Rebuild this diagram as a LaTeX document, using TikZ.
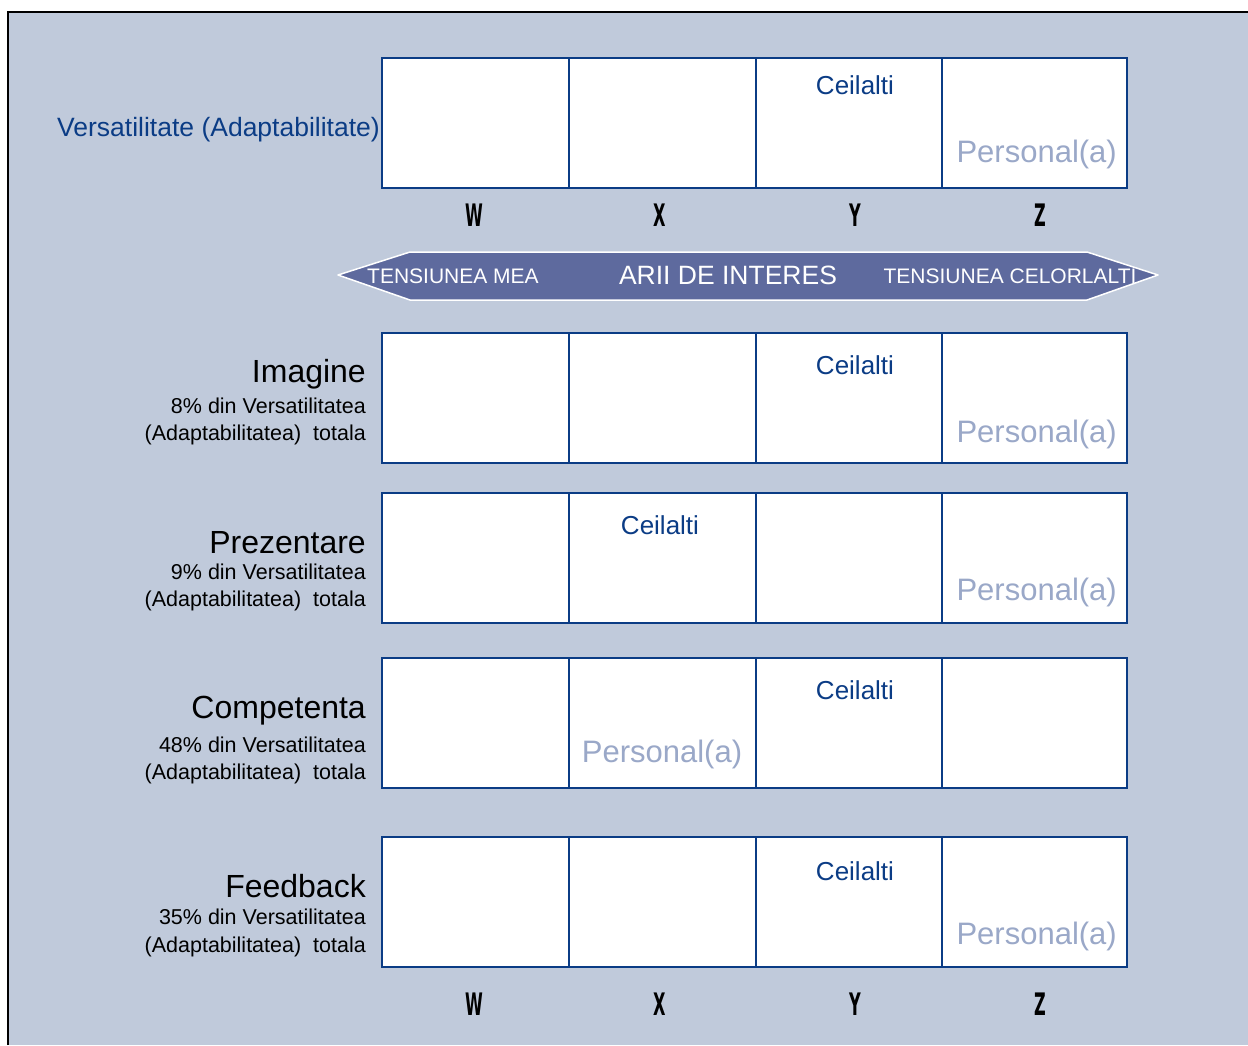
\documentclass[tikz,border=0pt]{standalone}
\usepackage{fontspec}
\setmainfont{Liberation Sans}
\newfontfamily\letterfont{DejaVu Sans}
\definecolor{bgc}{HTML}{C0CADB}
\definecolor{navy}{HTML}{0B3C85}
\definecolor{pers}{HTML}{9AA8C8}
\definecolor{bandc}{HTML}{5E6A9E}
\newcommand{\fs}[1]{\fontsize{#1}{#1}\selectfont}
\newcommand{\narrowtxt}[1]{\scalebox{0.52}[1]{#1}}
\begin{document}
\begin{tikzpicture}[x=1pt,y=-1pt,
  cell/.style={rectangle,draw=navy,line width=2.7pt,fill=white,minimum height=130pt,inner sep=0pt},
  txt/.style={inner sep=0pt,anchor=base},
  ceil/.style={txt,text=navy,font=\fs{26}},
  persn/.style={txt,text=pers,font=\fs{31}},
  letter/.style={txt,text=black,font=\letterfont\bfseries\fs{31}},
  rowtitle/.style={txt,anchor=base east,text=black,font=\fs{32}},
  rowsub/.style={txt,anchor=base east,text=black,font=\fs{21.5}},
  bandtxt/.style={txt,text=white}]
\useasboundingbox (0,0) rectangle (1248,1045);
\fill[bgc] (8,12) rectangle (1248,1045);
\draw[black,line width=2.5pt] (8,1045) -- (8,12) -- (1248,12);

% grid cells
\foreach \r/\yt in {1/58,2/333,3/493,4/658,5/837}{
  \foreach \c/\xl/\w in {1/382/187,2/569/187,3/756/186,4/942/185}{
    \node[cell,minimum width=\w pt] (r\r-\c) at (\xl+\w/2,\yt+65) {};
  }
}

% row 1
\node[txt,anchor=base east,text=navy,font=\fs{26.5}] (vers) at (380,136) {Versatilitate (Adaptabilitate)};
\node[ceil] (c1) at (855,94) {Ceilalti};
\node[persn,anchor=base east] (p1) at (1117,162) {Personal(a)};
\node[letter] (w1) at (474,226) {\narrowtxt{W}};
\node[letter] (x1) at (660,226) {\narrowtxt{X}};
\node[letter] (y1) at (855,226) {\narrowtxt{Y}};
\node[letter] (z1) at (1040,226) {\narrowtxt{Z}};

% banner
\filldraw[fill=bandc,draw=white,line width=1.5pt,line join=round]
  (338,275) -- (410,252) -- (1087,252) -- (1158,275) -- (1087,300) -- (410,300) -- cycle;
\node[bandtxt,font=\fs{21}] (tm) at (453,283) {TENSIUNEA MEA};
\node[bandtxt,font=\fs{26.5}] (ai) at (728,284) {ARII DE INTERES};
\node[bandtxt,font=\fs{21}] (tc) at (1010,283) {TENSIUNEA CELORLALTI};

% row 2
\node[rowtitle] (t2) at (366,382) {Imagine};
\node[rowsub] (s2a) at (366,413) {8\% din Versatilitatea};
\node[rowsub] (s2b) at (366,440) {(Adaptabilitatea)\ \ totala};
\node[ceil] (c2) at (855,374) {Ceilalti};
\node[persn,anchor=base east] (p2) at (1117,442) {Personal(a)};

% row 3
\node[rowtitle] (t3) at (366,553) {Prezentare};
\node[rowsub] (s3a) at (366,579) {9\% din Versatilitatea};
\node[rowsub] (s3b) at (366,606) {(Adaptabilitatea)\ \ totala};
\node[ceil] (c3) at (660,534) {Ceilalti};
\node[persn,anchor=base east] (p3) at (1117,600) {Personal(a)};

% row 4
\node[rowtitle] (t4) at (366,718) {Competenta};
\node[rowsub] (s4a) at (366,752) {48\% din Versatilitatea};
\node[rowsub] (s4b) at (366,779) {(Adaptabilitatea)\ \ totala};
\node[ceil] (c4) at (855,699) {Ceilalti};
\node[persn] (p4) at (662,762) {Personal(a)};

% row 5
\node[rowtitle] (t5) at (366,897) {Feedback};
\node[rowsub] (s5a) at (366,924) {35\% din Versatilitatea};
\node[rowsub] (s5b) at (366,952) {(Adaptabilitatea)\ \ totala};
\node[ceil] (c5) at (855,880) {Ceilalti};
\node[persn,anchor=base east] (p5) at (1117,944) {Personal(a)};
\node[letter] (w5) at (474,1015) {\narrowtxt{W}};
\node[letter] (x5) at (660,1015) {\narrowtxt{X}};
\node[letter] (y5) at (855,1015) {\narrowtxt{Y}};
\node[letter] (z5) at (1040,1015) {\narrowtxt{Z}};
\end{tikzpicture}
\end{document}
